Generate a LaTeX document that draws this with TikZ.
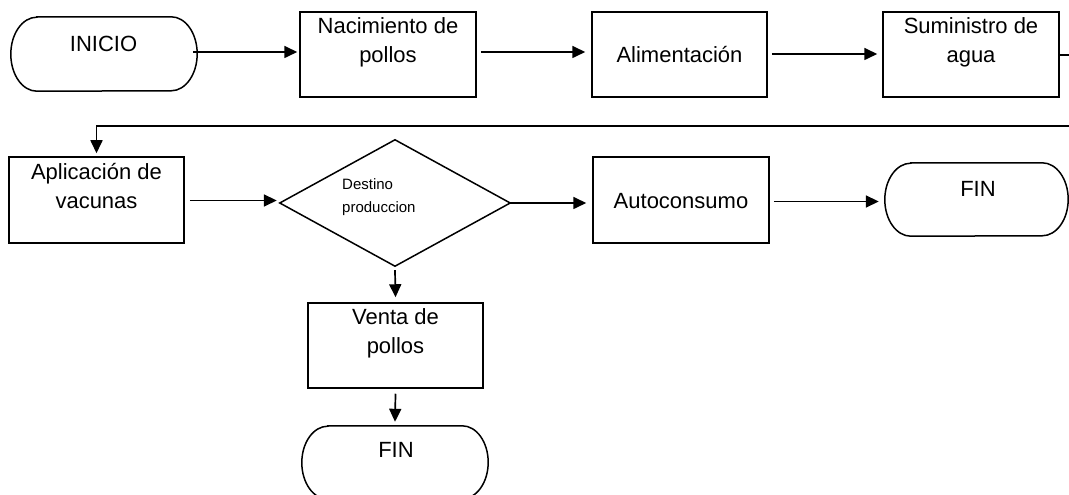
\documentclass[tikz,border=0pt]{standalone}
\usepackage{fontspec}
\setmainfont{Liberation Sans}
\usetikzlibrary{arrows.meta,calc}
\newcommand\stadiumpath[3]{% node name, x radius, y radius
  \draw[ln] ([xshift=#2]#1.north west) -- ([xshift=-#2]#1.north east)
    arc[start angle=90,end angle=-90,x radius=#2,y radius=#3]
    -- ([xshift=#2]#1.south west)
    arc[start angle=270,end angle=90,x radius=#2,y radius=#3] -- cycle;}
\tikzset{
  ln/.style={line width=1.5pt,black},
  arr/.style={line width=1.7pt,-{Triangle[length=13pt,width=12pt]}},
  boxnode/.style={draw,line width=1.5pt,rectangle,inner sep=0pt},
  termnode/.style={rectangle,inner sep=0pt},
  txt/.style={anchor=base,inner sep=0pt,font=\fontsize{22}{26}\selectfont},
  smalltxt/.style={anchor=base west,inner sep=0pt,font=\fontsize{15}{18}\selectfont}
}
\begin{document}
\begin{tikzpicture}[x=1pt,y=1pt]
\useasboundingbox (0,0) rectangle (1069,495);
\clip (0,0) rectangle (1069,495);
% shapes
\node[termnode,minimum width=186pt,minimum height=74pt] (ini) at (104,441) {};
\stadiumpath{ini}{26pt}{37pt}
\node[boxnode,minimum width=176pt,minimum height=85pt] (nac) at (388,440.5) {};
\node[boxnode,minimum width=175pt,minimum height=85pt] (ali) at (679.5,440.5) {};
\node[boxnode,minimum width=176pt,minimum height=85pt] (sum) at (971,440.5) {};
\node[boxnode,minimum width=175pt,minimum height=86pt] (apl) at (96.5,295) {};
\node[termnode,minimum width=230pt,minimum height=126pt] (dia) at (395,292) {};
\draw[ln] (dia.west) -- (dia.north) -- (dia.east) -- (dia.south) -- cycle;
\node[boxnode,minimum width=176pt,minimum height=86pt] (aut) at (681,295) {};
\node[termnode,minimum width=183pt,minimum height=73pt] (fin1) at (976.5,295.5) {};
\stadiumpath{fin1}{26pt}{36.5pt}
\node[boxnode,minimum width=175pt,minimum height=85pt] (ven) at (395.5,149.5) {};
\node[termnode,minimum width=186pt,minimum height=73pt] (fin2) at (395,32.5) {};
\stadiumpath{fin2}{26pt}{36.5pt}
% texts
\node[txt] (t-ini) at (103.5,443) {INICIO};
\node[txt] (t-nac1) at (388,461) {Nacimiento de};
\node[txt] (t-nac2) at (388,432) {pollos};
\node[txt] (t-ali) at (679.5,432) {Alimentación};
\node[txt] (t-sum1) at (971,461) {Suministro de};
\node[txt] (t-sum2) at (971,432) {agua};
\node[txt] (t-apl1) at (96.5,315) {Aplicación de};
\node[txt] (t-apl2) at (96.5,286) {vacunas};
\node[smalltxt] (t-dia1) at (342,305) {Destino};
\node[smalltxt] (t-dia2) at (342,282) {produccion};
\node[txt] (t-aut) at (681,286) {Autoconsumo};
\node[txt] (t-fin1) at (978,298) {FIN};
\node[txt] (t-ven1) at (395.5,170) {Venta de};
\node[txt] (t-ven2) at (395.5,141) {pollos};
\node[txt] (t-fin2) at (396,37) {FIN};
% connectors
\draw[arr] ($(ini.east)+(-4,2)$) -- ($(nac.west)+(-2,2.5)$);
\draw[arr] ($(nac.east)+(4,2.5)$) -- ($(ali.west)+(-6,2.5)$);
\draw[arr] ($(ali.east)+(4,0.5)$) -- ($(sum.west)+(-5,0.5)$);
\coordinate (ra) at (1070,369);
\draw[arr] ($(sum.east)+(0,-0.5)$) -- ($(ra)+(0,71)$) -- (ra) -- (apl.north |- ra) -- ($(apl.north)+(0,3)$);
\draw[arr] ($(apl.east)+(5,-0.5)$) -- ($(dia.west)+(-3,2.5)$);
\draw[arr] (dia.east) -- ($(aut.west)+(-6,-3)$);
\draw[arr] ($(aut.east)+(4,-1.5)$) -- ($(fin1.west)+(-6,-2)$);
\draw[arr] ($(dia.south)+(0,-4)$) -- ($(ven.north)+(0,5)$);
\draw[arr] ($(ven.south)+(0,-5)$) -- ($(fin2.north)+(0,4)$);
\end{tikzpicture}
\end{document}
